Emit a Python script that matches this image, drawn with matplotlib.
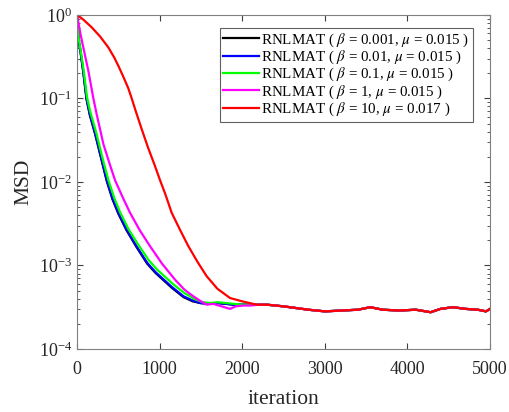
import matplotlib
matplotlib.use('Agg')
import matplotlib.pyplot as plt
import numpy as np

plt.rcParams['font.family'] = ['Liberation Serif', 'DejaVu Serif']
plt.rcParams['mathtext.fontset'] = 'stix'

# learning curves as log10(MSD)
tail_it = [2200, 2300, 2500, 2800, 3000, 3200, 3400, 3550, 3700, 3900, 4100, 4280, 4400, 4550, 4700, 4850, 4950, 5000]
tail_log = [-3.47, -3.47, -3.49, -3.53, -3.55, -3.54, -3.53, -3.50, -3.53, -3.54, -3.53, -3.56, -3.52, -3.50, -3.52, -3.53, -3.55, -3.52]

it_black = [0, 20, 40, 75, 115, 155, 220, 300, 360, 430, 500, 600, 720, 850, 950, 1050, 1150, 1290, 1400, 1490, 1600, 1700, 1800, 1900, 2000]
log_black = [0, -0.31, -0.43, -0.68, -1.01, -1.20, -1.43, -1.75, -1.99, -2.21, -2.38, -2.58, -2.78, -2.98, -3.09, -3.18, -3.27, -3.38, -3.43, -3.45, -3.46, -3.45, -3.46, -3.47, -3.47]

it_blue = [0, 20, 40, 75, 115, 155, 220, 300, 360, 430, 500, 600, 720, 850, 950, 1050, 1150, 1290, 1400, 1490, 1600, 1700, 1800, 1900, 2000]
log_blue = [0, -0.30, -0.42, -0.67, -1.00, -1.19, -1.42, -1.74, -1.98, -2.20, -2.37, -2.57, -2.77, -2.97, -3.08, -3.17, -3.26, -3.37, -3.42, -3.45, -3.46, -3.45, -3.46, -3.47, -3.47]

it_green = [0, 20, 40, 80, 120, 160, 230, 310, 380, 450, 520, 620, 740, 870, 970, 1070, 1170, 1300, 1420, 1520, 1620, 1700, 1800, 1900, 2000]
log_green = [0, -0.28, -0.40, -0.66, -0.98, -1.16, -1.40, -1.72, -1.98, -2.19, -2.36, -2.56, -2.75, -2.94, -3.05, -3.14, -3.23, -3.33, -3.40, -3.44, -3.45, -3.44, -3.45, -3.46, -3.47]

it_magenta = [0, 40, 76, 137, 198, 238, 320, 400, 460, 560, 642, 760, 884, 1030, 1186, 1300, 1408, 1500, 1570, 1650, 1750, 1852, 1920, 2013, 2100]
log_magenta = [0, -0.22, -0.39, -0.67, -1.00, -1.19, -1.55, -1.80, -1.98, -2.20, -2.37, -2.58, -2.77, -2.98, -3.17, -3.29, -3.37, -3.43, -3.47, -3.46, -3.49, -3.52, -3.49, -3.48, -3.48]

it_red = [0, 80, 178, 280, 379, 450, 500, 560, 621, 662, 710, 780, 860, 940, 1005, 1070, 1146, 1250, 1348, 1460, 1570, 1700, 1852, 2000, 2175]
log_red = [0, -0.06, -0.15, -0.26, -0.39, -0.51, -0.61, -0.74, -0.88, -1.00, -1.15, -1.36, -1.59, -1.80, -1.98, -2.15, -2.37, -2.58, -2.77, -2.96, -3.13, -3.28, -3.39, -3.43, -3.47]

labels = [
    r'RNLMAT ( $\beta$ = 0.001, $\mu$ = 0.015 )',
    r'RNLMAT ( $\beta$ = 0.01, $\mu$ = 0.015 )',
    r'RNLMAT ( $\beta$ = 0.1, $\mu$ = 0.015 )',
    r'RNLMAT ( $\beta$ = 1, $\mu$ = 0.015 )',
    r'RNLMAT ( $\beta$ = 10, $\mu$ = 0.017 )',
]
colors = ['#000000', '#0000ff', '#00ff00', '#ff00ff', '#ff0000']

fig = plt.figure(figsize=(5.1, 4.12), dpi=100)
ax = fig.add_axes([0.151, 0.153, 0.81, 0.811])

series = [(it_black, log_black), (it_blue, log_blue), (it_green, log_green),
          (it_magenta, log_magenta), (it_red, log_red)]
for (it, lg), c, lab in zip(series, colors, labels):
    x = np.array(list(it) + [t for t in tail_it if t > it[-1]])
    y = np.array(list(lg) + [v for t, v in zip(tail_it, tail_log) if t > it[-1]])
    ax.semilogy(x, 10.0 ** y, color=c, lw=1.6, label=lab)

ax.set_xlim(0, 5000)
ax.set_ylim(1e-4, 1)
ax.set_xticks([0, 1000, 2000, 3000, 4000, 5000])
ax.tick_params(which='both', direction='in', top=True, right=True, colors='#404040',
               labelcolor='#262626', labelsize=13)
ax.tick_params(which='major', length=4)
ax.tick_params(which='minor', length=2)
ax.tick_params(axis='x', pad=9)
for s in ax.spines.values():
    s.set_color('#808080')
    s.set_linewidth(0.8)

ax.set_xlabel('iteration', fontsize=15.5, color='#262626', labelpad=8)
ax.set_ylabel('MSD', fontsize=15.5, color='#262626', labelpad=4)

leg = ax.legend(loc='upper right', bbox_to_anchor=(0.958, 0.962), fontsize=10.8,
                handlelength=2.4, handletextpad=0.1, labelspacing=0.0,
                borderpad=0.25, borderaxespad=0, fancybox=False, framealpha=1)
leg.get_frame().set_edgecolor('#606060')
leg.get_frame().set_linewidth(0.8)

fig.savefig('out.png', dpi=100)
